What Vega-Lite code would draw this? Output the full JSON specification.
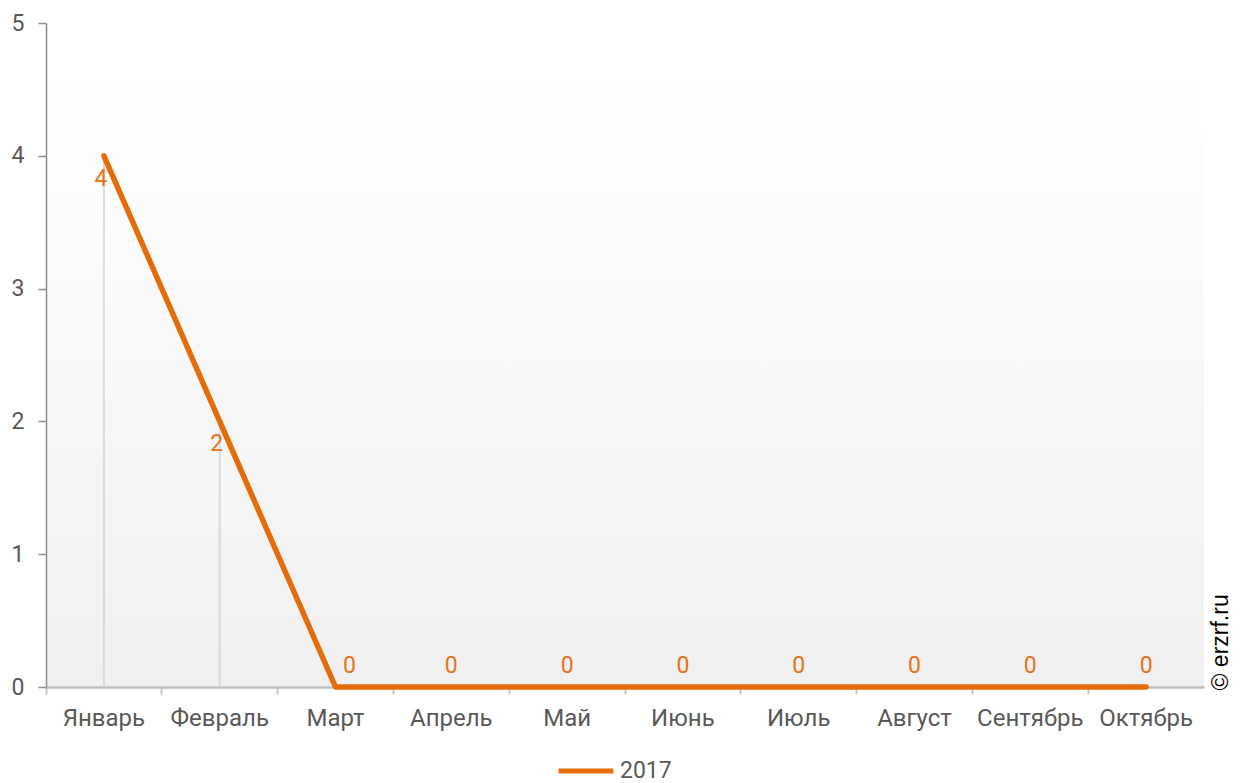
{
  "$schema": "https://vega.github.io/schema/vega-lite/v6.json",
  "width": 1158,
  "height": 664,
  "autosize": "none",
  "padding": {"left": 46, "top": 23, "right": 38, "bottom": 96},
  "background": "#ffffff",
  "config": {
    "font": "Roboto",
    "view": {
      "stroke": null,
      "fill": {
        "gradient": "linear",
        "x1": 0, "y1": 0, "x2": 0, "y2": 1,
        "stops": [
          {"offset": 0, "color": "#ffffff"},
          {"offset": 0.15, "color": "#fefefe"},
          {"offset": 1, "color": "#f0f0f0"}
        ]
      }
    }
  },
  "data": {
    "values": [
      {"month": "Январь", "value": 4, "series": "2017"},
      {"month": "Февраль", "value": 2, "series": "2017"},
      {"month": "Март", "value": 0, "series": "2017"},
      {"month": "Апрель", "value": 0, "series": "2017"},
      {"month": "Май", "value": 0, "series": "2017"},
      {"month": "Июнь", "value": 0, "series": "2017"},
      {"month": "Июль", "value": 0, "series": "2017"},
      {"month": "Август", "value": 0, "series": "2017"},
      {"month": "Сентябрь", "value": 0, "series": "2017"},
      {"month": "Октябрь", "value": 0, "series": "2017"}
    ]
  },
  "encoding": {
    "x": {
      "field": "month",
      "type": "nominal",
      "sort": null,
      "scale": {"type": "band", "paddingInner": 0, "paddingOuter": 0},
      "axis": {
        "title": null,
        "labelAngle": 0,
        "labelFontSize": 24,
        "labelColor": "#595959",
        "labelPadding": 12,
        "bandPosition": 0,
        "tickSize": 7,
        "tickColor": "#c8c8c8",
        "tickWidth": 2,
        "domainColor": "#c0c0c0",
        "domainWidth": 2.5,
        "grid": false
      }
    }
  },
  "layer": [
    {
      "transform": [{"filter": "datum.value > 0"}],
      "mark": {"type": "rule", "color": "#dadada", "strokeWidth": 2},
      "encoding": {
        "y": {
          "field": "value",
          "type": "quantitative",
          "scale": {"domain": [0, 5], "nice": false, "zero": true},
          "axis": {
            "title": null,
            "values": [0, 1, 2, 3, 4, 5],
            "labelFontSize": 23,
            "labelColor": "#595959",
            "labelPadding": 14,
            "tickSize": 8,
            "tickColor": "#8c8c8c",
            "tickWidth": 1.5,
            "domainColor": "#8c8c8c",
            "domainWidth": 1.5,
            "grid": false
          }
        },
        "y2": {"datum": 0}
      }
    },
    {
      "mark": {"type": "line", "strokeWidth": 5.5, "strokeCap": "round", "strokeJoin": "round"},
      "encoding": {
        "y": {
          "field": "value",
          "type": "quantitative",
          "axis": {
            "orient": "right",
            "title": "© erzrf.ru",
            "titleFont": "Liberation Sans",
            "titleAngle": 270,
            "titleFontSize": 23,
            "titleFontWeight": "normal",
            "titleColor": "#000000",
            "titleAlign": "left",
            "titleBaseline": "middle",
            "titleX": 16,
            "titleY": 667,
            "labels": false,
            "ticks": false,
            "domain": false,
            "grid": false
          }
        },
        "color": {
          "field": "series",
          "type": "nominal",
          "scale": {"range": ["#E46C0A"]},
          "legend": {
            "title": null,
            "orient": "none",
            "legendX": 510,
            "legendY": 718,
            "symbolType": "stroke",
            "symbolStrokeWidth": 5,
            "symbolSize": 3000,
            "labelFontSize": 23,
            "labelColor": "#595959",
            "labelOffset": 4
          }
        }
      }
    },
    {
      "transform": [{"filter": "datum.value > 0"}],
      "mark": {"type": "text", "baseline": "top", "dy": 12, "dx": -3, "fontSize": 23, "color": "#E8731A"},
      "encoding": {
        "y": {"field": "value", "type": "quantitative", "axis": null},
        "text": {"field": "value", "type": "quantitative"}
      }
    },
    {
      "transform": [{"filter": "datum.value == 0 && datum.month != 'Март'"}],
      "mark": {"type": "text", "baseline": "alphabetic", "dy": -14, "fontSize": 23, "color": "#E8731A"},
      "encoding": {
        "y": {"field": "value", "type": "quantitative", "axis": null},
        "text": {"field": "value", "type": "quantitative"}
      }
    },
    {
      "transform": [{"filter": "datum.month == 'Март'"}],
      "mark": {"type": "text", "baseline": "alphabetic", "dy": -14, "dx": 14, "fontSize": 23, "color": "#E8731A"},
      "encoding": {
        "y": {"field": "value", "type": "quantitative", "axis": null},
        "text": {"field": "value", "type": "quantitative"}
      }
    }
  ],
  "resolve": {"axis": {"y": "independent"}}
}
